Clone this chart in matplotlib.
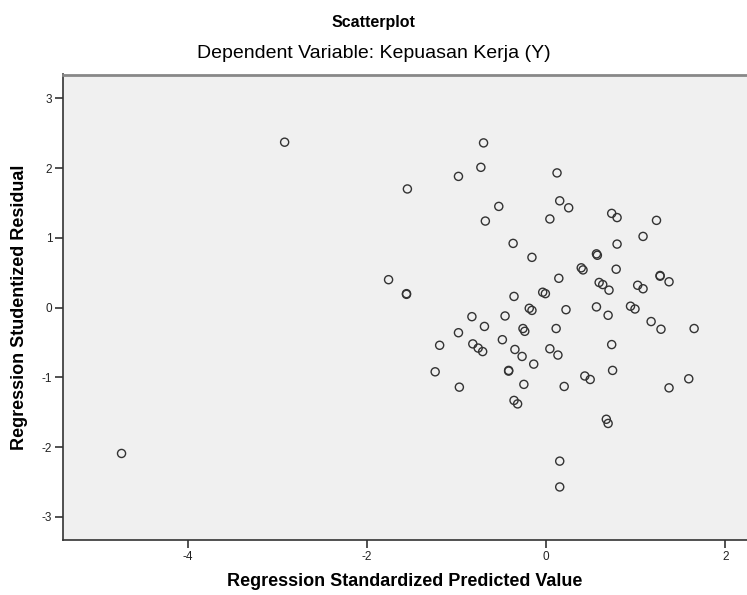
import matplotlib
matplotlib.use("Agg")
import matplotlib.pyplot as plt

plt.rcParams['font.family'] = ['Liberation Sans', 'DejaVu Sans']

title = "Scatterplot"
subtitle = "Dependent Variable: Kepuasan Kerja (Y)"
x_label = "Regression Standardized Predicted Value"
y_label = "Regression Studentized Residual"
x_ticks = [-4, -2, 0, 2]
y_ticks = [-3, -2, -1, 0, 1, 2, 3]

predicted = [
    -4.74, -2.92, -0.70, -0.73, -0.98, -1.55, -0.53, -0.68, -0.37, -0.16,
    -1.76, -1.56, -1.56, -0.36, -0.19, -0.16, -0.83, -0.46, 0.12, 0.15,
    0.25, 0.04, 0.73, 0.79, 1.23, 1.08, 0.79, 0.56, 0.57, 0.14,
    0.39, 0.41, 0.78, 0.59, 0.63, 0.70, 1.02, 1.08, 1.27, 1.27,
    1.37, -0.04, -0.01, 0.22, 0.56, 0.69, 0.94, 0.99, 1.17, 1.28,
    1.65, -0.26, -0.24, 0.11, 0.73, 0.04, 0.13, -0.27, -0.14, 0.74,
    0.43, 0.49, -0.25, 0.20, 1.37, 1.59, 0.67, 0.69, 0.15, 0.15,
    -0.69, -0.98, -1.19, -0.82, -0.76, -0.71, -0.49, -0.35, -1.24, -0.42,
    -0.42, -0.97, -0.36, -0.32,
]
residual = [
    -2.09, 2.37, 2.36, 2.01, 1.88, 1.70, 1.45, 1.24, 0.92, 0.72,
    0.40, 0.20, 0.19, 0.16, -0.01, -0.04, -0.13, -0.12, 1.93, 1.53,
    1.43, 1.27, 1.35, 1.29, 1.25, 1.02, 0.91, 0.77, 0.75, 0.42,
    0.57, 0.54, 0.55, 0.36, 0.33, 0.25, 0.32, 0.27, 0.46, 0.45,
    0.37, 0.22, 0.20, -0.03, 0.01, -0.11, 0.02, -0.02, -0.20, -0.31,
    -0.30, -0.30, -0.34, -0.30, -0.53, -0.59, -0.68, -0.70, -0.81, -0.90,
    -0.98, -1.03, -1.10, -1.13, -1.15, -1.02, -1.60, -1.66, -2.20, -2.57,
    -0.27, -0.36, -0.54, -0.52, -0.58, -0.63, -0.46, -0.60, -0.92, -0.90,
    -0.91, -1.14, -1.33, -1.38,
]

fig = plt.figure(figsize=(7.47, 5.95), dpi=100)
ax = fig.add_axes([63.3 / 747, 1 - 540 / 595, 1 - 63.3 / 747, (540 - 74.5) / 595])
ax.set_facecolor('#f0f0f0')

ax.scatter(predicted, residual, s=34, facecolors='none', edgecolors='#333333', linewidths=1.0, zorder=3)

ax.set_xlim(-5.39, 2.24)
ax.set_ylim(-3.33, 3.34)
ax.set_xticks(x_ticks)
ax.set_yticks(y_ticks)
ax.set_xticklabels([str(v) for v in x_ticks])
ax.set_yticklabels([str(v) for v in y_ticks])
ax.tick_params(axis='both', direction='out', length=6, width=1.2, color='#333333', labelsize=8.5, labelcolor='#222222', pad=2)

for side in ['left', 'bottom']:
    ax.spines[side].set_color('#333333')
    ax.spines[side].set_linewidth(1.2)
ax.spines['top'].set_color('#888888')
ax.spines['top'].set_linewidth(2.0)
ax.spines['right'].set_visible(False)

ax.set_xlabel(x_label, fontsize=13, fontweight='bold', labelpad=7)
ax.set_ylabel(y_label, fontsize=13, fontweight='bold', labelpad=10)

fig.text(0.5, 1 - 23 / 595, title, ha='center', va='center', fontsize=11.5, fontweight='bold')
fig.text(0.5, 1 - 54 / 595, subtitle, ha='center', va='center', fontsize=14)

fig.savefig('out.png', dpi=100, facecolor='white')
